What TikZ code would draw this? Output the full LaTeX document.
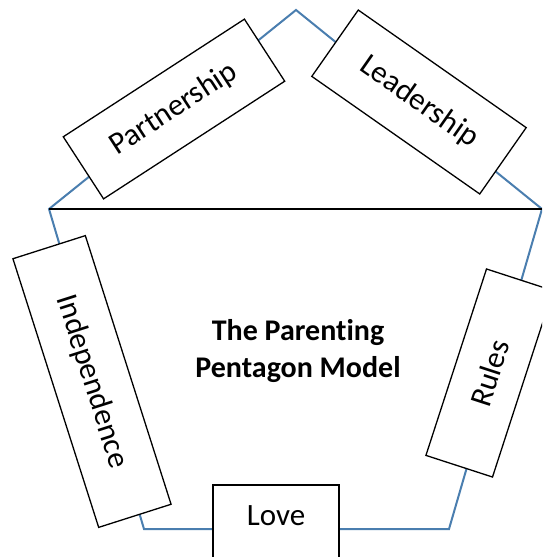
\documentclass[tikz,border=0pt]{standalone}
\usepackage{fontspec}
\setmainfont{Carlito}[Ligatures={NoCommon}]
\begin{document}
\begin{tikzpicture}[x=1pt,y=-1pt,
  pentline/.style={draw=penta, line width=2pt, line join=miter},
  topbox/.style={draw=black, fill=white, line width=1.3pt, inner sep=0pt,
    font=\fontsize{31}{37}\selectfont},
]
\definecolor{penta}{RGB}{74,126,175}
\useasboundingbox (0,0) rectangle (542,557);
\clip (0,0) rectangle (542,557);
\coordinate (apex) at (296,10);
\coordinate (lv) at (49,209);
\coordinate (rv) at (542,209);
\coordinate (bl) at (144,529);
\coordinate (br) at (449,529);
\draw[pentline] (apex) -- (rv) -- (br) -- (bl) -- (lv) -- cycle;
\draw[black, line width=2.2pt] (lv) -- (rv);
\node[topbox, minimum width=216pt, minimum height=74pt, rotate=33] (part) at (174,109) {Partnership};
\node[topbox, minimum width=205pt, minimum height=81pt, rotate=-35] (lead) at (419,102) {Leadership};
\node[topbox, minimum width=282pt, minimum height=76pt, rotate=-72.3] (indep) at (92,381.5) {Independence};
\node[topbox, minimum width=196pt, minimum height=70pt, rotate=72] (rules) at (489.5,373) {Rules};
\node[topbox, minimum width=126pt, text height=40.5pt, text depth=45pt, anchor=north] (love) at (276,484.3) {Love};
\node[align=center, font=\fontsize{30}{37}\selectfont\bfseries] (title) at (298,351) {The Parenting\\Pentagon Model};
\end{tikzpicture}
\end{document}
